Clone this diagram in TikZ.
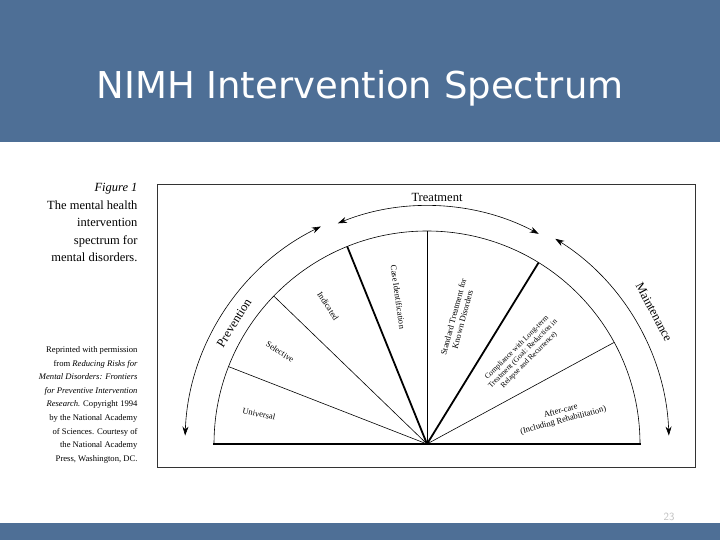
\documentclass[tikz,border=0pt]{standalone}
\usepackage{fontspec}
\setmainfont{Liberation Serif}
\newfontfamily\titlefont{DejaVu Sans}
\usetikzlibrary{arrows.meta}
\definecolor{slideblue}{RGB}{78,111,150}
\tikzset{
  lab/.style={font=\fontsize{8.5}{9.5}\selectfont, align=center, inner sep=1pt},
  big/.style={font=\fontsize{12.5}{13}\selectfont, inner sep=1pt},
  arc/.style={line width=0.6pt, -{Stealth[length=9pt,width=6pt]}},
  thin/.style={line width=0.6pt},
  thick2/.style={line width=1.8pt}
}
\begin{document}
\begin{tikzpicture}[x=1pt,y=1pt]
\useasboundingbox (0,0) rectangle (720,540);
\fill[slideblue] (0,0) rectangle (720,540);
\fill[white] (0,17) rectangle (720,398);
\node[text=white, font=\titlefont\fontsize{37}{42}\selectfont] (title) at (360,452) {NIMH Intervention Spectrum};
\node[text=black!25, font=\sffamily\fontsize{11}{12}\selectfont] (num) at (669,23) {23};
% caption
\node[anchor=north east, align=right, font=\fontsize{12.5}{17.5}\selectfont] (cap) at (141,360)
 {\textit{Figure 1}\\The mental health\\intervention\\spectrum for\\mental disorders.};
\node[anchor=north east, align=right, font=\fontsize{8.6}{13.6}\selectfont] (rep) at (141,197)
 {Reprinted with permission\\from \textit{Reducing Risks for}\\\textit{Mental Disorders: Frontiers}\\\textit{for Preventive Intervention}\\\textit{Research.} Copyright 1994\\by the National Academy\\of Sciences. Courtesy of\\the National Academy\\Press, Washington, DC.};
% box
\draw[thin, black!80] (157.5,73) rectangle (695,356);
\coordinate (c) at (427,96);
\draw[line width=1.4pt] (213,96) -- (641,96);
\draw[thin] (640,96) arc (0:180:213);
\draw[thin] (c) -- ++(158.7:213);
\draw[thin] (c) -- ++(136:213);
\draw[thick2] (c) -- ++(112:213);
\draw[thin] (c) -- ++(90:213);
\draw[thick2] (c) -- ++(58.4:213);
\draw[thin] (c) -- ++(28.5:213);
% outer arrows
\draw[arc,{Stealth[length=9pt,width=6pt]}-{Stealth[length=9pt,width=6pt]}] (c) ++(178:242) arc (178:116:242);
\draw[arc,{Stealth[length=9pt,width=6pt]}-{Stealth[length=9pt,width=6pt]}] (c) ++(112:238) arc (112:62:238);
\draw[arc,{Stealth[length=9pt,width=6pt]}-{Stealth[length=9pt,width=6pt]}] (c) ++(58:242) arc (58:2:242);
% labels
\node[big] (treat) at (437,343) {Treatment};
\node[big, rotate=58] (prev) at (234,217) {Prevention};
\node[big, rotate=-62] (maint) at (654,228) {Maintenance};
\node[lab, rotate=-12] (uni) at (259,126) {Universal};
\node[lab, rotate=-33] (sel) at (280,188) {Selective};
\node[lab, rotate=-57] (ind) at (328,234) {Indicated};
\node[lab, rotate=-82] (case) at (398,243) {Case Identification};
\node[lab, rotate=75] (std) at (458,222) {Standard Treatment for\\Known Disorders};
\node[lab, rotate=45, font=\fontsize{7.6}{8.6}\selectfont] (comp) at (523,186) {Compliance with Long-term\\Treatment (Goal: Reduction in\\Relapse and Recurrence)};
\node[lab, rotate=15] (after) at (562,124) {After-care\\(Including Rehabilitation)};
\end{tikzpicture}
\end{document}
